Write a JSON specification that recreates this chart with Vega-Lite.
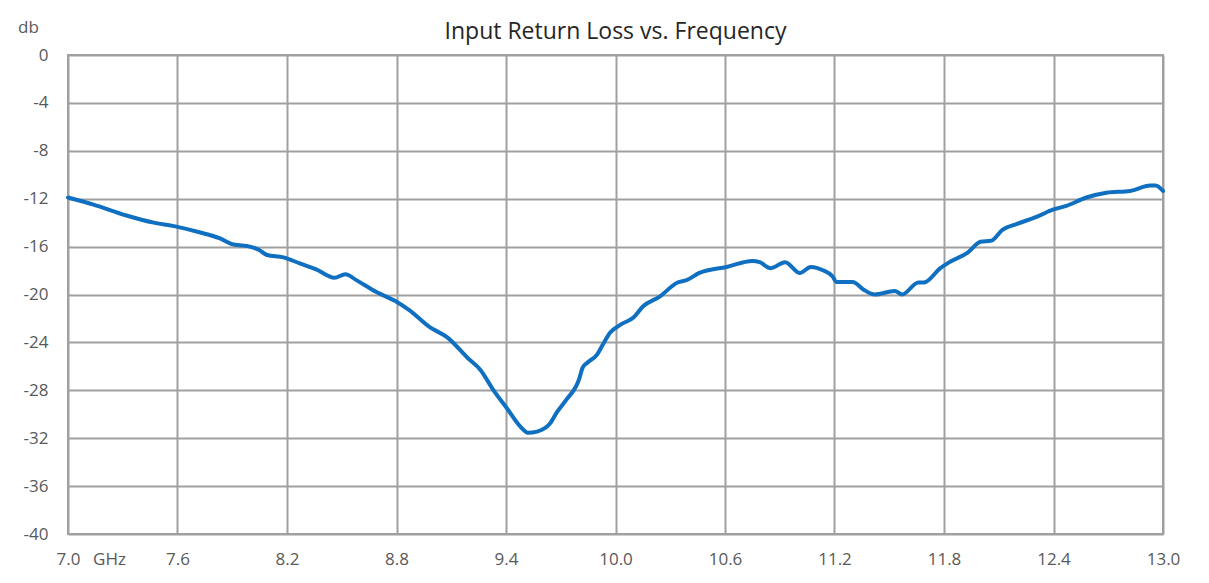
{
  "$schema": "https://vega.github.io/schema/vega-lite/v6.json",
  "width": 1095,
  "height": 479,
  "autosize": "none",
  "padding": {"left": 68, "top": 55, "right": 46, "bottom": 49},
  "background": "white",
  "title": {
    "text": "Input Return Loss vs. Frequency",
    "font": "Open Sans",
    "fontSize": 23,
    "fontWeight": "normal",
    "color": "#262626",
    "anchor": "middle",
    "baseline": "middle",
    "offset": -37
  },
  "config": {
    "view": {"stroke": "#A0A0A0", "strokeWidth": 2},
    "axis": {
      "labelFont": "Open Sans",
      "labelFontSize": 17,
      "labelColor": "#595959",
      "titleFont": "Open Sans",
      "titleFontSize": 17,
      "titleFontWeight": "normal",
      "titleColor": "#595959",
      "gridColor": "#A0A0A0",
      "gridWidth": 2,
      "gridOpacity": 1,
      "domain": false,
      "ticks": false
    }
  },
  "data": {
    "values": [
      {"f": 7.0, "db": -11.9},
      {"f": 7.14, "db": -12.5},
      {"f": 7.32, "db": -13.4},
      {"f": 7.47, "db": -14.0},
      {"f": 7.6, "db": -14.35},
      {"f": 7.72, "db": -14.8},
      {"f": 7.83, "db": -15.3},
      {"f": 7.9, "db": -15.8},
      {"f": 7.98, "db": -15.95},
      {"f": 8.05, "db": -16.3},
      {"f": 8.09, "db": -16.7},
      {"f": 8.18, "db": -16.9},
      {"f": 8.27, "db": -17.4},
      {"f": 8.36, "db": -17.9},
      {"f": 8.46, "db": -18.6},
      {"f": 8.52, "db": -18.3},
      {"f": 8.58, "db": -18.8},
      {"f": 8.69, "db": -19.8},
      {"f": 8.8, "db": -20.6},
      {"f": 8.87, "db": -21.3},
      {"f": 8.98, "db": -22.7},
      {"f": 9.08, "db": -23.6},
      {"f": 9.19, "db": -25.3},
      {"f": 9.26, "db": -26.3},
      {"f": 9.33, "db": -27.96},
      {"f": 9.405, "db": -29.5},
      {"f": 9.48, "db": -31.05},
      {"f": 9.52, "db": -31.55},
      {"f": 9.57, "db": -31.45},
      {"f": 9.64, "db": -30.8},
      {"f": 9.68, "db": -29.8},
      {"f": 9.73, "db": -28.8},
      {"f": 9.8, "db": -27.1},
      {"f": 9.82, "db": -26.1},
      {"f": 9.845, "db": -25.7},
      {"f": 9.9, "db": -25.0},
      {"f": 9.93, "db": -24.2},
      {"f": 9.97, "db": -23.2},
      {"f": 10.03, "db": -22.5},
      {"f": 10.1, "db": -21.9},
      {"f": 10.15, "db": -21.0},
      {"f": 10.24, "db": -20.2},
      {"f": 10.34, "db": -19.0},
      {"f": 10.39, "db": -18.8},
      {"f": 10.46, "db": -18.2},
      {"f": 10.61, "db": -17.7},
      {"f": 10.75, "db": -17.2},
      {"f": 10.79, "db": -17.3},
      {"f": 10.85, "db": -17.8},
      {"f": 10.93, "db": -17.3},
      {"f": 11.01, "db": -18.2},
      {"f": 11.07, "db": -17.7},
      {"f": 11.14, "db": -18.0},
      {"f": 11.19, "db": -18.5},
      {"f": 11.21, "db": -18.95},
      {"f": 11.3, "db": -18.95},
      {"f": 11.36, "db": -19.6},
      {"f": 11.42, "db": -20.0},
      {"f": 11.53, "db": -19.7},
      {"f": 11.57, "db": -20.0},
      {"f": 11.66, "db": -19.0},
      {"f": 11.69, "db": -19.0},
      {"f": 11.78, "db": -17.8},
      {"f": 11.83, "db": -17.3},
      {"f": 11.93, "db": -16.5},
      {"f": 12.0, "db": -15.6},
      {"f": 12.06, "db": -15.5},
      {"f": 12.12, "db": -14.6},
      {"f": 12.2, "db": -14.1},
      {"f": 12.31, "db": -13.5},
      {"f": 12.4, "db": -12.9},
      {"f": 12.47, "db": -12.6},
      {"f": 12.58, "db": -11.9},
      {"f": 12.69, "db": -11.5},
      {"f": 12.82, "db": -11.35},
      {"f": 12.93, "db": -10.9},
      {"f": 12.96, "db": -10.9},
      {"f": 13.0, "db": -11.35}
    ]
  },
  "mark": {"type": "line", "color": "#0F6FC0", "strokeWidth": 4, "interpolate": "monotone", "strokeCap": "round", "strokeJoin": "round"},
  "encoding": {
    "x": {
      "field": "f",
      "type": "quantitative",
      "scale": {"domain": [7, 13], "nice": false, "zero": false},
      "axis": {
        "values": [7.0, 7.6, 8.2, 8.8, 9.4, 10.0, 10.6, 11.2, 11.8, 12.4, 13.0],
        "format": ".1f",
        "labelPadding": 17,
        "labelFlush": false,
        "title": "GHz",
        "titleX": 41,
        "titleY": 25,
        "titleAlign": "center",
        "titleBaseline": "middle"
      }
    },
    "y": {
      "field": "db",
      "type": "quantitative",
      "scale": {"domain": [-40, 0], "nice": false, "zero": false},
      "axis": {
        "values": [0, -4, -8, -12, -16, -20, -24, -28, -32, -36, -40],
        "labelExpr": "replace(datum.label, '\u2212', '-')",
        "labelPadding": 20,
        "labelFlush": false,
        "title": "db",
        "titleAngle": 0,
        "titleX": -40,
        "titleY": -28,
        "titleAlign": "center",
        "titleBaseline": "middle"
      }
    }
  }
}
